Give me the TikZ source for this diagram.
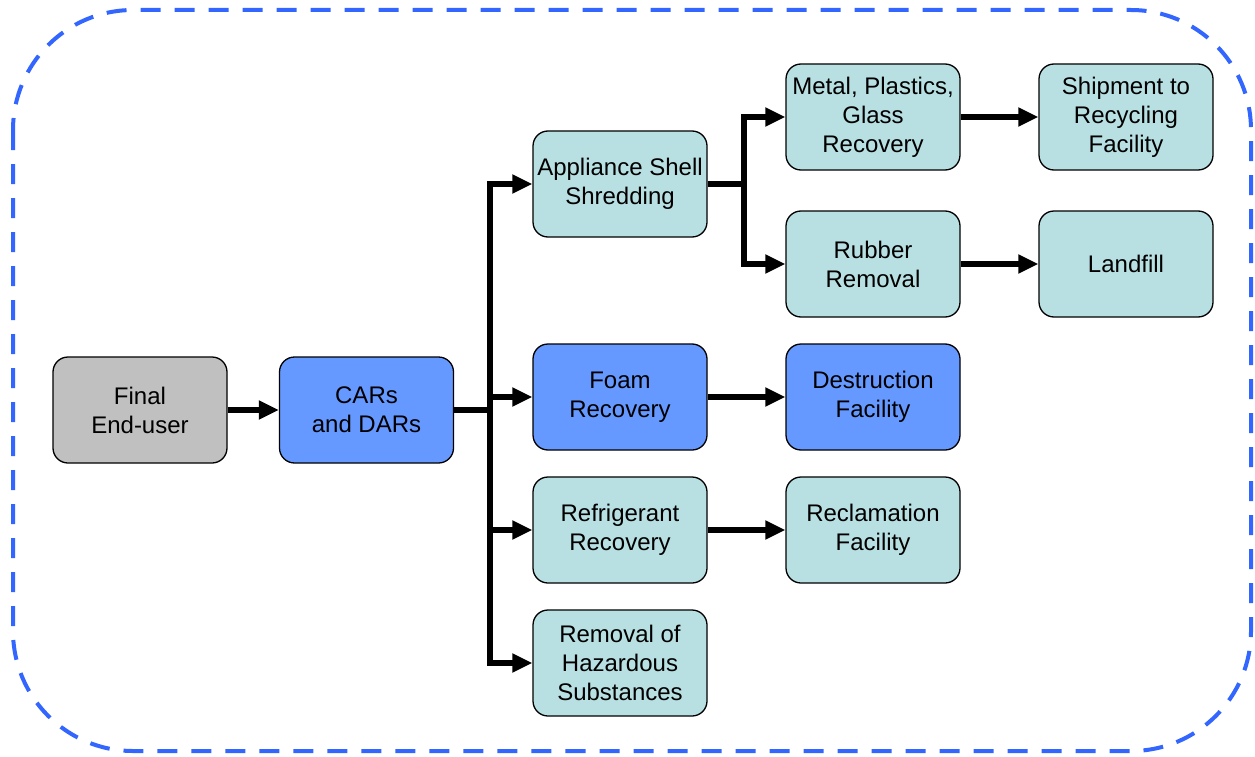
\documentclass[tikz,border=0pt]{standalone}
\usepackage{fontspec}
\setmainfont{Liberation Sans}
\usetikzlibrary{arrows.meta,calc}
\definecolor{boxgray}{HTML}{C0C0C0}
\definecolor{boxblue}{HTML}{6699FF}
\definecolor{boxcyan}{HTML}{B8E0E2}
\definecolor{frameblue}{HTML}{3366FF}
\tikzset{
  box/.style={draw=black, line width=1.3pt, rounded corners=15pt,
    minimum width=174pt, minimum height=106pt, align=center, inner sep=2pt,
    font=\fontsize{24}{29}\selectfont},
  graybox/.style={box, fill=boxgray},
  bluebox/.style={box, fill=boxblue},
  cyanbox/.style={box, fill=boxcyan},
  arr/.style={line width=6pt, -{Triangle[length=20pt,width=18pt]}},
  link/.style={line width=6pt},
}
\begin{document}
\begin{tikzpicture}[x=1pt,y=-1pt]
  \useasboundingbox (0,0) rectangle (1255,757);
  % dashed outer frame
  \draw[frameblue, line width=4pt, dash pattern=on 20pt off 14pt, rounded corners=120pt]
    (13,10) rectangle (1251,751);

  % process boxes
  \node[graybox] (user) at (140,410) {Final\\End-user};
  \node[bluebox] (cars) at (366.5,410) {CARs\\and DARs};
  \node[cyanbox] (shell) at (620,184) {Appliance Shell\\Shredding};
  \node[bluebox] (foam) at (620,397) {Foam\\Recovery};
  \node[cyanbox] (refr) at (620,530) {Refrigerant\\Recovery};
  \node[cyanbox] (haz) at (620,663) {Removal of\\Hazardous\\Substances};
  \node[cyanbox] (metal) at (873,117) {Metal, Plastics,\\Glass\\Recovery};
  \node[cyanbox] (rubber) at (873,264) {Rubber\\Removal};
  \node[bluebox] (destr) at (873,397) {Destruction\\Facility};
  \node[cyanbox] (recl) at (873,530) {Reclamation\\Facility};
  \node[cyanbox] (ship) at (1126,117) {Shipment to\\Recycling\\Facility};
  \node[cyanbox] (land) at (1126,264) {Landfill};

  % junction points of the branching connectors
  \coordinate (j1) at (490,410);
  \coordinate (j2) at (744,184);

  \draw[arr] (user.east) -- (cars.west);
  \draw[link] (cars.east) -- (j1);
  \draw[arr] (j1) |- (shell.west);
  \draw[arr] (j1) |- (foam.west);
  \draw[arr] (j1) |- (refr.west);
  \draw[arr] (j1) |- (haz.west);
  \draw[link] (shell.east) -- (j2);
  \draw[arr] (j2) |- (metal.west);
  \draw[arr] (j2) |- (rubber.west);
  \draw[arr] (metal.east) -- (ship.west);
  \draw[arr] (rubber.east) -- (land.west);
  \draw[arr] (foam.east) -- (destr.west);
  \draw[arr] (refr.east) -- (recl.west);
\end{tikzpicture}
\end{document}
